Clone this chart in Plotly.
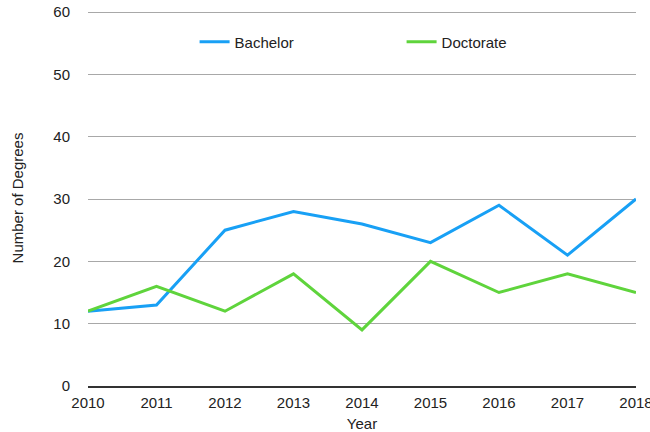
import plotly.graph_objects as go

years = [2010, 2011, 2012, 2013, 2014, 2015, 2016, 2017, 2018]
bachelor = [12, 13, 25, 28, 26, 23, 29, 21, 30]
doctorate = [12, 16, 12, 18, 9, 20, 15, 18, 15]
y_ticks = [0, 10, 20, 30, 40, 50, 60]

fig = go.Figure()
fig.add_trace(go.Scatter(x=years, y=bachelor, mode="lines", name="Bachelor",
                         line=dict(color="#18a0f5", width=3)))
fig.add_trace(go.Scatter(x=years, y=doctorate, mode="lines", name="Doctorate",
                         line=dict(color="#5fd43c", width=3)))

fig.update_layout(
    width=650, height=432,
    margin=dict(l=88, r=14, t=10, b=46, autoexpand=False),
    paper_bgcolor="white", plot_bgcolor="white",
    font=dict(family="Liberation Sans, Arial, sans-serif", size=15, color="#222"),
    legend=dict(orientation="h", x=0.1945, xanchor="left", y=0.915, yanchor="middle",
                entrywidth=162, entrywidthmode="pixels",
                font=dict(size=15), bgcolor="rgba(0,0,0,0)"),
    xaxis=dict(range=[2010, 2018], tickvals=years, showgrid=False, automargin=False,
               showline=True, linecolor="#333", linewidth=2, ticks="",
               ticklabeloverflow="allow", ticklabelstandoff=2,
               title=dict(text="Year", font=dict(size=15), standoff=10),
               zeroline=False),
    yaxis=dict(range=[0, 60.33], tickvals=y_ticks, showgrid=True, gridcolor="#a8a8a8",
               gridwidth=1, zeroline=False, ticks="", ticklabelstandoff=17,
               automargin=False, ticklabeloverflow="allow",
               title=dict(text="Number of Degrees", font=dict(size=15), standoff=26)),
)
fig.write_html("out.html", config={"displayModeBar": False},
               post_script="document.body.style.margin='0';document.body.style.overflow='hidden';")
